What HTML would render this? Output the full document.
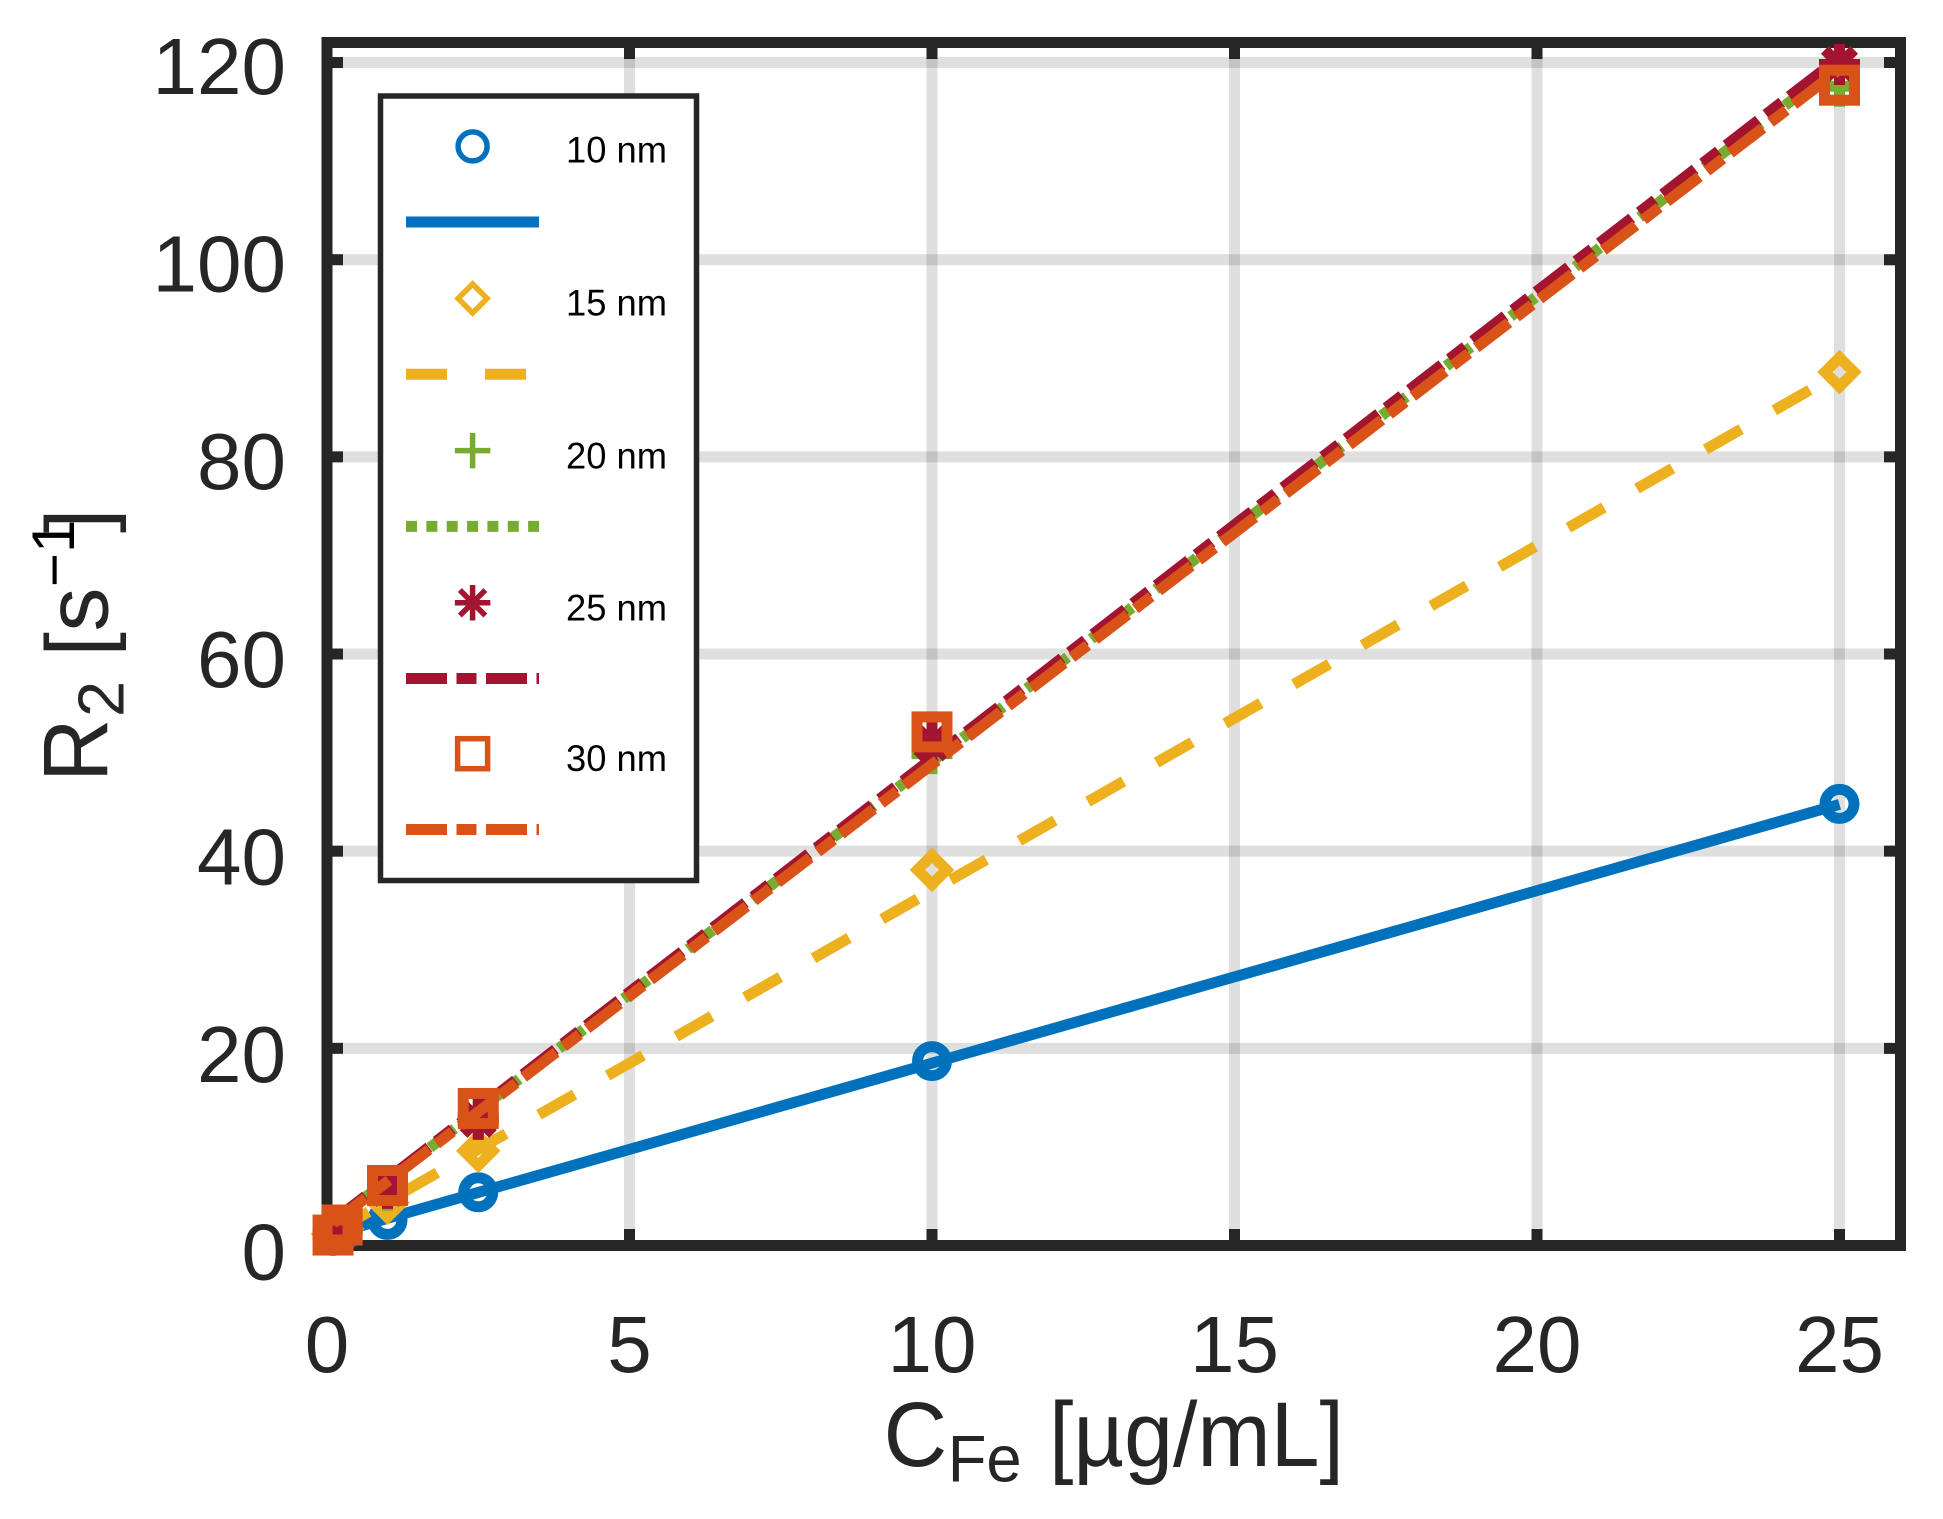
<!DOCTYPE html>
<html>
<head>
<meta charset="utf-8">
<style>
html,body{margin:0;padding:0;background:#fff;}
svg{display:block;}
text{font-family:"Liberation Sans",Arial,sans-serif;}
</style>
</head>
<body>
<svg id="chart" xmlns="http://www.w3.org/2000/svg" width="1943" height="1519" viewBox="0 0 1943 1519">
<rect x="0" y="0" width="1943" height="1519" fill="#fff"/>
<g id="grid"></g>
<g id="ticks"></g>
<rect x="327" y="42.5" width="1573.5" height="1203" fill="none" stroke="#262626" stroke-width="11"/>
<g id="ticklabels"></g>
<g id="series"></g>
<g fill="#262626">
  <text x="883.6" y="1466" font-size="92" textLength="63.5" lengthAdjust="spacingAndGlyphs">C</text>
  <text x="947.7" y="1481.7" font-size="66" textLength="74" lengthAdjust="spacingAndGlyphs">Fe</text>
  <text x="1049" y="1466" font-size="92" textLength="295" lengthAdjust="spacingAndGlyphs">[µg/mL]</text>
</g>
<g fill="#262626">
  <text transform="translate(107.6,782) rotate(-90)" font-size="92" textLength="63.5" lengthAdjust="spacingAndGlyphs">R</text>
  <text transform="translate(123.6,717) rotate(-90)" font-size="65">2</text>
  <text transform="translate(107.6,656.5) rotate(-90)" font-size="88">[</text>
  <text transform="translate(107.6,631.6) rotate(-90)" font-size="88">s</text>
  <text transform="translate(74,587) rotate(-90)" font-size="58" fill="#000">−</text>
  <text transform="translate(74,553) rotate(-90)" font-size="60" fill="#000">1</text>
  <text transform="translate(107.6,533) rotate(-90)" font-size="88">]</text>
</g>
<g id="legend">
  <rect x="380.5" y="96" width="316" height="784.5" fill="#fff" stroke="#262626" stroke-width="5.5"/>
</g>
</svg>
<script>
const xTicks = [0, 5, 10, 15, 20, 25];
const yTicks = [0, 20, 40, 60, 80, 100, 120];
const concentrations = [0.1, 0.25, 1, 2.5, 10, 25];
const labels = ['10 nm', '15 nm', '20 nm', '25 nm', '30 nm'];
const markerValues10 = [0.96, 1.4, 2.6, 5.4, 18.7, 44.8];
const markerValues15 = [1.17, 1.7, 4.34, 9.6, 38.1, 88.6];
const markerValues20 = [1.1, 1.7, 5.6, 13.0, 49.9, 117.6];
const markerValues25 = [1.1, 1.7, 5.8, 12.8, 51.0, 119.8];
const markerValues30 = [1.06, 2.08, 6.09, 13.9, 52.1, 117.7];
const fitValues10 = [1.17, 1.44, 2.75, 5.38, 18.5, 44.75];
const fitValues15 = [1.35, 1.88, 4.5, 9.75, 36, 88.5];
const fitValues20 = [2.37, 3.08, 6.62, 13.7, 49.1, 119.9];
const fitValues25 = [2.47, 3.19, 6.74, 13.85, 49.4, 120.5];
const fitValues30 = [2.27, 2.98, 6.5, 13.55, 48.8, 119.3];
const markerSeries = [markerValues10, markerValues15, markerValues20, markerValues25, markerValues30];
const fitSeries = [fitValues10, fitValues15, fitValues20, fitValues25, fitValues30];

const colors = ['#0072bd', '#edb120', '#77ac30', '#a2142f', '#d95319'];
const shapes = ['circle', 'diamond', 'plus', 'asterisk', 'square'];
const dashes = ['none', '41 38', '11 9.35', '41 9.5 20 9.5', '41 9.5 20 9.5'];
const NS = 'http://www.w3.org/2000/svg';
function sx(v){ return 327 + v * 60.5; }
function sy(v){ return 1245.5 - v * 9.858; }
function make(tag, attrs, parent){
  const el = document.createElementNS(NS, tag);
  for (const k in attrs) el.setAttribute(k, attrs[k]);
  parent.appendChild(el);
  return el;
}
function drawMarker(shape, cx, cy, color, sw, parent){
  const style = {fill:'none', stroke:color, 'stroke-width':sw, 'stroke-linejoin':'miter'};
  if (shape === 'circle') return make('circle', Object.assign({cx:cx, cy:cy, r:14.5}, style), parent);
  if (shape === 'square') return make('rect', Object.assign({x:cx-15, y:cy-15, width:30, height:30}, style), parent);
  if (shape === 'diamond') return make('path', Object.assign({d:'M'+cx+' '+(cy-14.5)+'L'+(cx+14.5)+' '+cy+'L'+cx+' '+(cy+14.5)+'L'+(cx-14.5)+' '+cy+'Z'}, style), parent);
  const r = 15;
  let d = 'M'+(cx-r)+' '+cy+'H'+(cx+r)+'M'+cx+' '+(cy-r)+'V'+(cy+r);
  if (shape === 'asterisk') {
    const q = r * 0.72;
    d += 'M'+(cx-q)+' '+(cy-q)+'L'+(cx+q)+' '+(cy+q)+'M'+(cx-q)+' '+(cy+q)+'L'+(cx+q)+' '+(cy-q);
  }
  return make('path', Object.assign({d:d, 'stroke-linecap':'square'}, style), parent);
}

const gridG = document.getElementById('grid');
const tickG = document.getElementById('ticks');
const labelG = document.getElementById('ticklabels');

xTicks.forEach(function(t){
  const x = sx(t);
  if (t !== 0) {
    const g = make('line', {x1:x, x2:x, y1:42.5, y2:1245.5, stroke:'#262626', 'stroke-width':11, 'stroke-opacity':0.15}, gridG);
    
    
  }
  const a = make('line', {x1:x, x2:x, y1:1245.5, y2:1229, stroke:'#262626', 'stroke-width':11}, tickG);
  
  
  const b = make('line', {x1:x, x2:x, y1:42.5, y2:59, stroke:'#262626', 'stroke-width':11}, tickG);
  
  
  const l = make('text', {x:x, y:1372, 'font-size':80, 'text-anchor':'middle', fill:'#262626'}, labelG);
  l.textContent = String(t);
  
  
});
yTicks.forEach(function(t){
  const y = sy(t);
  if (t !== 0) {
    const g = make('line', {x1:327, x2:1900.5, y1:y, y2:y, stroke:'#262626', 'stroke-width':11, 'stroke-opacity':0.15}, gridG);
    
    
  }
  const a = make('line', {x1:327, x2:343, y1:y, y2:y, stroke:'#262626', 'stroke-width':11}, tickG);
  
  
  const b = make('line', {x1:1900.5, x2:1884, y1:y, y2:y, stroke:'#262626', 'stroke-width':11}, tickG);
  
  
  const l = make('text', {x:286, y:y + 34 - 2.5 * t / 120, 'font-size':80, 'text-anchor':'end', fill:'#262626'}, labelG);
  l.textContent = String(t);
  
  
});

const seriesG = document.getElementById('series');
markerSeries.forEach(function(vals, i){
  const group = make('g', {}, seriesG);
  
  
  vals.forEach(function(v, j){
    const m = drawMarker(shapes[i], sx(concentrations[j]), sy(v), colors[i], 11, group);
    
    
  });
  const pts = fitSeries[i].map(function(v, j){ return sx(concentrations[j]) + ',' + sy(v); }).join(' ');
  const line = make('polyline', {points:pts, fill:'none', stroke:colors[i], 'stroke-width':11, 'stroke-dasharray':dashes[i]}, group);
  
  
});

const legendG = document.getElementById('legend');
const legendMarkerRows = [146.4, 298.5, 450.6, 602.8, 753.7];
const legendLineRows = [222, 374.3, 526.4, 678.5, 829.5];
const legendTextRows = [163.6, 316.3, 469.6, 621.7, 772];
labels.forEach(function(name, i){
  const m = drawMarker(shapes[i], 472.6, legendMarkerRows[i], colors[i], 5.5, legendG);
  
  
  const l = make('line', {x1:406, x2:539, y1:legendLineRows[i], y2:legendLineRows[i], stroke:colors[i], 'stroke-width':11, 'stroke-dasharray':dashes[i]}, legendG);
  
  
  const t = make('text', {x:566, y:legendTextRows[i] - 1, 'font-size':37, fill:'#000', textLength:101, lengthAdjust:'spacingAndGlyphs'}, legendG);
  t.textContent = name;
  
  
});
</script>
</body>
</html>
